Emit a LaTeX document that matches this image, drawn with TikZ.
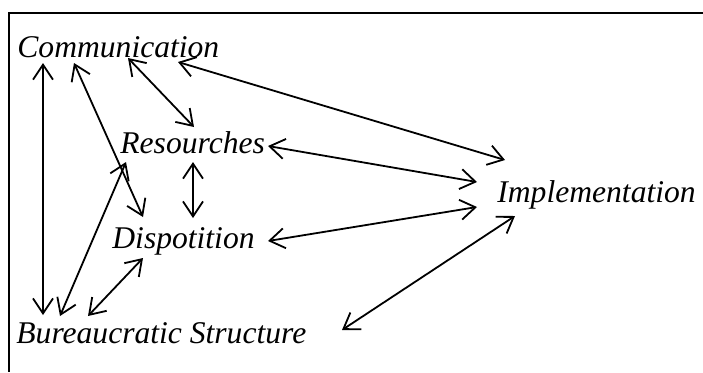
\documentclass[tikz,border=0pt]{standalone}
\usepackage{fontspec}
\setmainfont{Liberation Serif}
\usetikzlibrary{arrows.meta,positioning}
\tikzstyle{factor}=[anchor=base west,inner sep=0pt,font=\fontsize{15.8}{19}\selectfont\itshape]
\tikzstyle{arrow} = [line width=0.9pt,{Straight Barb[length=7.5pt,width=10pt]}-{Straight Barb[length=7.5pt,width=10pt]},draw=black]

\begin{document}
\begin{tikzpicture}[x=0.5pt,y=-0.5pt]
            \useasboundingbox (0,0) rectangle (703,372);
            \draw[line width=1pt] (703,13) -- (9,13) -- (9,372);

            \node (C) [factor] at (17,57) {Communication};
            \node (R) [factor] at (120,153) {Resourches};
            \node (D) [factor] at (112,248) {Dispotition};
            \node (B) [factor] at (16,343) {Bureaucratic Structure};
            \node (I) [factor] at (497,202) {Implementation};

            \draw[arrow] ([shift={(26,6)}]C.base west) -- ([shift={(27,-28)}]B.base west);
            \draw[arrow] ([shift={(57,6)}]C.base west) -- ([shift={(31,-31)}]D.base west);
            \draw[arrow] ([shift={(111,1)}]C.base west) -- ([shift={(74,-26)}]R.base west);
            \draw[arrow] ([shift={(161,5)}]C.base west) -- ([shift={(8,-42)}]I.base west);

            \draw[arrow] ([shift={(6,9)}]R.base west) -- ([shift={(44,-27)}]B.base west);
            \draw[arrow] ([shift={(73,9)}]R.base west) -- ([shift={(81,-30)}]D.base west);
            \draw[arrow] ([shift={(148,-7)}]R.base west) -- ([shift={(-20,-20)}]I.base west);

            \draw[arrow] ([shift={(31,10)}]D.base west) -- ([shift={(72,-27)}]B.base west);
            \draw[arrow] ([shift={(156,-7)}]D.base west) -- ([shift={(-20,5)}]I.base west);

            \draw[arrow] ([shift={(18,14)}]I.base west) -- ([shift={(326,-13)}]B.base west);
\end{tikzpicture}
\end{document}
